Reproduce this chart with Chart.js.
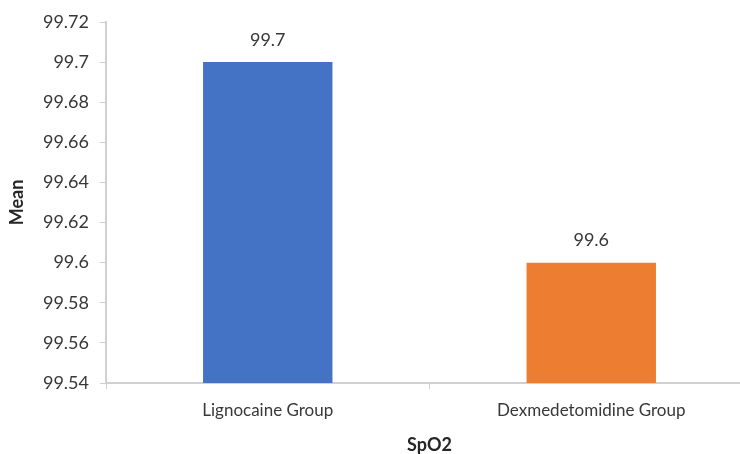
<!DOCTYPE html>
<html lang="en">
<head>
    <meta charset="UTF-8">
    <title>SpO2 Mean</title>
    <script src="https://cdn.jsdelivr.net/npm/chart.js@4.4.1/dist/chart.umd.min.js"></script>
    <style>
        html, body {
            margin: 0;
            padding: 0;
            background: #fff;
            overflow: hidden;
        }

        .chart-wrapper {
            width: 760px;
            height: 454px;
        }
    </style>
</head>
<body>
    <div class="chart-wrapper">
        <canvas id="spo2Chart"></canvas>
    </div>

    <script>
        // Data
        const categories = ['Lignocaine Group', 'Dexmedetomidine Group'];
        const meanValues = [99.7, 99.6];
        const barColors = ['#4472C4', '#ED7D31'];
        const yTicks = [99.54, 99.56, 99.58, 99.6, 99.62, 99.64, 99.66, 99.68, 99.7, 99.72];

        const FONT = 'Lato, "Open Sans", sans-serif';
        const TEXT = '#383838';
        const TITLE = '#262626';
        const AXIS = '#d0d0d0';

        // Draw the value above each bar
        const valueLabels = {
            id: 'valueLabels',
            afterDatasetsDraw(chart) {
                const ctx = chart.ctx;
                const meta = chart.getDatasetMeta(0);
                ctx.save();
                ctx.font = '18px ' + FONT;
                ctx.fillStyle = TEXT;
                ctx.textAlign = 'center';
                ctx.textBaseline = 'bottom';
                meta.data.forEach((bar, i) => {
                    ctx.fillText(String(meanValues[i]), bar.x, bar.y - 13);
                });
                ctx.restore();
            }
        };

        const ctx = document.getElementById('spo2Chart').getContext('2d');
        new Chart(ctx, {
            type: 'bar',
            data: {
                labels: categories,
                datasets: [{
                    label: 'Mean',
                    data: meanValues,
                    backgroundColor: barColors,
                    barPercentage: 0.4,
                    categoryPercentage: 1.0
                }]
            },
            options: {
                responsive: true,
                maintainAspectRatio: false,
                animation: false,
                layout: {
                    padding: { left: 0, right: 7, top: 22, bottom: 0 }
                },
                plugins: {
                    legend: { display: false },
                    tooltip: { enabled: false }
                },
                scales: {
                    x: {
                        grid: {
                            offset: true,
                            drawOnChartArea: false,
                            color: AXIS,
                            tickLength: 6,
                            tickColor: AXIS
                        },
                        border: { color: AXIS, width: 2 },
                        ticks: {
                            color: TEXT,
                            font: { family: FONT, size: 17 },
                            padding: 11
                        },
                        title: {
                            display: true,
                            text: 'SpO2',
                            color: TITLE,
                            font: { family: FONT, size: 18, weight: 'bold', lineHeight: 1 },
                            padding: 0
                        },
                        afterFit(scale) {
                            scale.height = 71;
                        }
                    },
                    y: {
                        min: 99.54,
                        max: 99.72,
                        afterBuildTicks(scale) {
                            scale.ticks = yTicks.map(v => ({ value: v }));
                        },
                        grid: {
                            drawOnChartArea: false,
                            color: AXIS,
                            tickLength: 6,
                            tickColor: AXIS
                        },
                        border: { color: AXIS, width: 2 },
                        ticks: {
                            color: TEXT,
                            font: { family: FONT, size: 18 },
                            padding: 11,
                            callback: function (value) {
                                return String(Math.round(value * 100) / 100);
                            }
                        },
                        title: {
                            display: true,
                            text: 'Mean',
                            color: TITLE,
                            font: { family: FONT, size: 18, weight: 'bold', lineHeight: 1 },
                            padding: { top: 8, bottom: 0 }
                        },
                        afterFit(scale) {
                            scale.width = 106;
                        }
                    }
                }
            },
            plugins: [valueLabels]
        });
    </script>
</body>
</html>
